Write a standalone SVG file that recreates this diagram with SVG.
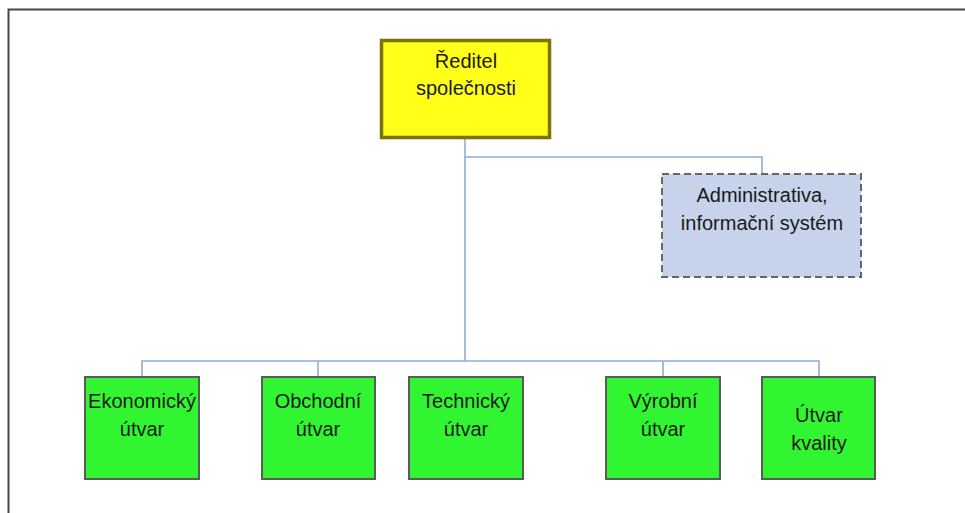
<svg xmlns="http://www.w3.org/2000/svg" width="965" height="513" viewBox="0 0 965 513">
<style>
  text { font-family: "Liberation Sans", Arial, sans-serif; font-size: 20px; fill: #1a1a1a; text-anchor: middle; }
  .conn { stroke: #8fabd9; stroke-width: 1.6; fill: none; }
  .green { fill: #30f530; stroke: #5a5a5a; stroke-width: 2; }
  .yellow { fill: #ffff1a; stroke: #7d7400; stroke-width: 3.5; }
  .admin { fill: #c6d3ea; stroke: #666666; stroke-width: 2; stroke-dasharray: 7 4; }
</style>
<rect x="0" y="0" width="965" height="513" fill="#ffffff"/>
<path d="M8.5 513 V9.5 H965" fill="none" stroke="#444444" stroke-width="2"/>
<g id="connectors">
  <path class="conn" d="M465 139 V361"/>
  <path class="conn" d="M465 157 H762 V174"/>
  <path class="conn" d="M142 377 V361 H819 V377"/>
  <path class="conn" d="M318 361 V377"/>
  <path class="conn" d="M663 361 V377"/>
</g>
<g id="reditel">
  <rect class="yellow" x="381.5" y="40.5" width="168" height="97"/>
  <text x="466" y="68">Ředitel</text>
  <text x="466" y="95">společnosti</text>
</g>
<g id="administrativa">
  <rect class="admin" x="662" y="174" width="199" height="103"/>
  <text x="762" y="202">Administrativa,</text>
  <text x="762" y="230">informační systém</text>
</g>
<g id="ekonomicky">
  <rect class="green" x="85" y="377" width="114" height="102"/>
  <text x="142" y="408">Ekonomický</text>
  <text x="142" y="436">útvar</text>
</g>
<g id="obchodni">
  <rect class="green" x="262" y="377" width="113" height="102"/>
  <text x="318" y="408">Obchodní</text>
  <text x="318" y="436">útvar</text>
</g>
<g id="technicky">
  <rect class="green" x="409" y="377" width="114" height="102"/>
  <text x="466" y="408">Technický</text>
  <text x="466" y="436">útvar</text>
</g>
<g id="vyrobni">
  <rect class="green" x="606" y="377" width="114" height="102"/>
  <text x="663" y="408">Výrobní</text>
  <text x="663" y="436">útvar</text>
</g>
<g id="kvalita">
  <rect class="green" x="762" y="377" width="113" height="102"/>
  <text x="819" y="422">Útvar</text>
  <text x="819" y="450">kvality</text>
</g>
</svg>
